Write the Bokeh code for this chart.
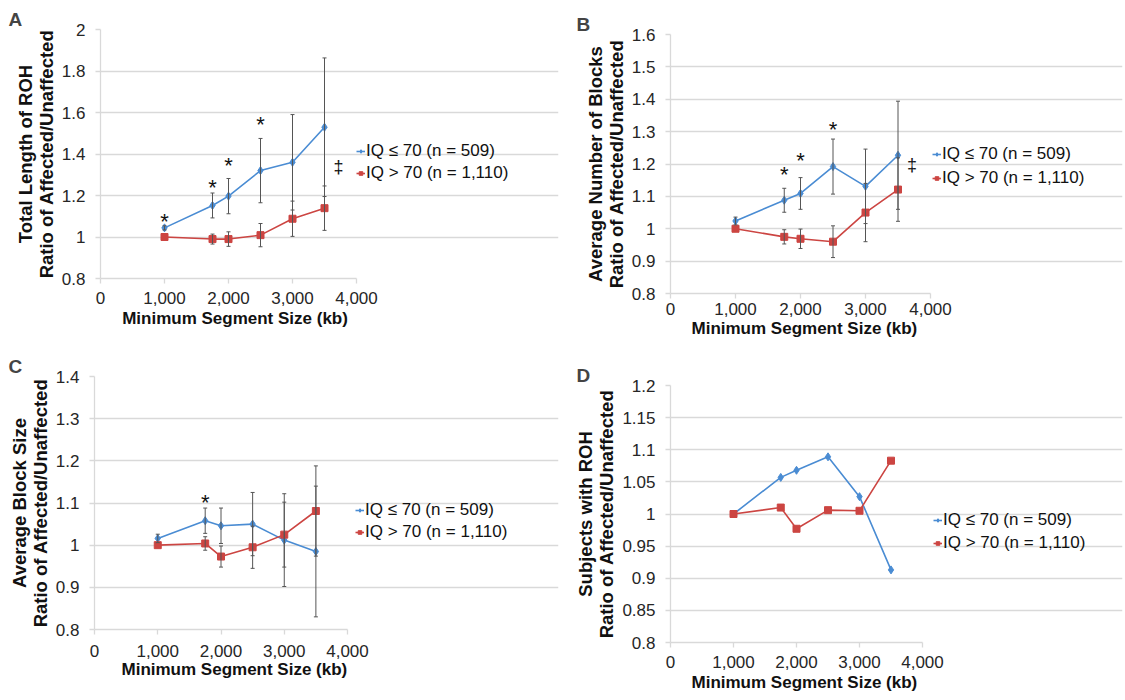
from bokeh.plotting import figure
from bokeh.models import (Range1d, FixedTicker, Legend, LegendItem, Whisker,
                          ColumnDataSource, TeeHead)
from bokeh.layouts import column, row
from bokeh.embed import file_html
from bokeh.resources import INLINE
from bokeh.core.properties import value

# ---------------- data ----------------
sizes = [1000, 1750, 2000, 2500, 3000, 3500]

A_low = [1.044, 1.152, 1.197, 1.320, 1.360, 1.529]
A_low_err = [0.010, 0.060, 0.085, 0.155, 0.230, 0.334]
A_high = [1.000, 0.990, 0.990, 1.009, 1.088, 1.139]
A_high_err = [0.0, 0.024, 0.035, 0.056, 0.085, 0.107]

B_low = [1.024, 1.088, 1.109, 1.192, 1.131, 1.227]
B_low_err = [0.012, 0.037, 0.049, 0.085, 0.115, 0.167]
B_high = [1.000, 0.975, 0.969, 0.960, 1.050, 1.121]
B_high_err = [0.0, 0.022, 0.030, 0.049, 0.090, 0.098]

C_low = [1.016, 1.058, 1.046, 1.050, 1.012, 0.985]
C_low_err = [0.010, 0.030, 0.042, 0.075, 0.110, 0.155]
C_high = [1.000, 1.004, 0.973, 0.995, 1.025, 1.081]
C_high_err = [0.0, 0.016, 0.025, 0.050, 0.077, 0.107]

D_low = [1.000, 1.057, 1.068, 1.089, 1.027, 0.913]
D_high = [1.000, 1.010, 0.977, 1.006, 1.005, 1.083]

A_star_x = [1000, 1750, 2000, 2500]
A_star_y = [1.094, 1.260, 1.365, 1.560]
B_star_x = [1750, 2000, 2500]
B_star_y = [1.179, 1.224, 1.320]
C_star_x = [1750]
C_star_y = [1.110]
A_dagger = (3720, 1.33)
B_dagger = (3714, 1.19)

x_ticks = [0, 1000, 2000, 3000, 4000]
x_tick_labels = ["0", "1,000", "2,000", "3,000", "4,000"]
A_yticks = [0.8, 1.0, 1.2, 1.4, 1.6, 1.8, 2.0]
A_ylabels = ["0.8", "1", "1.2", "1.4", "1.6", "1.8", "2"]
B_yticks = [0.8, 0.9, 1.0, 1.1, 1.2, 1.3, 1.4, 1.5, 1.6]
B_ylabels = ["0.8", "0.9", "1", "1.1", "1.2", "1.3", "1.4", "1.5", "1.6"]
C_yticks = [0.8, 0.9, 1.0, 1.1, 1.2, 1.3, 1.4]
C_ylabels = ["0.8", "0.9", "1", "1.1", "1.2", "1.3", "1.4"]
D_yticks = [0.8, 0.85, 0.9, 0.95, 1.0, 1.05, 1.1, 1.15, 1.2]
D_ylabels = ["0.8", "0.85", "0.9", "0.95", "1", "1.05", "1.1", "1.15", "1.2"]

x_title = "Minimum Segment Size (kb)"
label_low = "IQ \u2264 70 (n = 509)"
label_high = "IQ > 70 (n = 1,110)"

BLUE = "#4A8CD3"
RED = "#CC4542"
GRID = "#D9D9D9"
FONT = "Liberation Sans"
X_MAX = 4000


def panel(letter, ylabel, yticks, ylabels, low, high, low_err, high_err,
          w, h, left, top, bottom, plot_w, leg_dx, leg_top, leg_spacing,
          title_off, xlab_standoff, xtitle_standoff, xtitle_pad,
          stars=None, dagger=None):
    right = 2
    frame_w = w - left - right
    frame_h = h - top - bottom
    x_end = X_MAX * frame_w / plot_w
    p = figure(width=w, height=h, output_backend="svg",
               toolbar_location=None, x_range=Range1d(0, x_end),
               y_range=Range1d(yticks[0], yticks[-1]),
               min_border_left=left, min_border_top=top,
               min_border_right=right, min_border_bottom=bottom,
               title=letter)
    p.title.text_font = FONT
    p.title.text_font_size = "19px"
    p.title.text_font_style = "bold"
    p.title.align = "left"
    p.title.offset = title_off
    p.title.standoff = 0
    p.outline_line_color = None
    p.background_fill_color = "white"
    p.border_fill_color = "white"
    p.xgrid.grid_line_color = None
    p.ygrid.grid_line_color = GRID
    p.ygrid.grid_line_width = 1.3
    p.ygrid.bounds = (0, X_MAX)

    p.xaxis.ticker = FixedTicker(ticks=x_ticks)
    p.xaxis.major_label_overrides = {t: l for t, l in zip(x_ticks, x_tick_labels)}
    p.xaxis.bounds = (0, X_MAX)
    p.yaxis.ticker = FixedTicker(ticks=yticks)
    p.yaxis.major_label_overrides = {t: l for t, l in zip(yticks, ylabels)}
    for ax in (p.xaxis, p.yaxis):
        ax.axis_line_color = GRID
        ax.axis_line_width = 1.3
        ax.major_tick_line_color = GRID
        ax.major_tick_line_width = 1.3
        ax.major_tick_out = 5
        ax.major_tick_in = 0
        ax.minor_tick_line_color = None
        ax.major_label_text_font = FONT
        ax.major_label_text_font_size = "17px"
        ax.major_label_text_color = "#262626"
        ax.axis_label_text_font = FONT
        ax.axis_label_text_font_style = "bold"
        ax.axis_label_text_color = "#111111"
    # x title: trailing no-break spaces shift the centred title over the 0-4,000 span
    p.xaxis.axis_label = x_title + "\u00a0" * xtitle_pad
    p.xaxis.axis_label_text_font_size = "17px"
    p.xaxis.axis_label_standoff = xtitle_standoff
    p.xaxis.major_label_standoff = xlab_standoff
    p.yaxis.axis_label = ylabel
    p.yaxis.axis_label_text_font_size = "18.5px"
    p.yaxis.axis_label_text_line_height = 1.0
    p.yaxis.axis_label_standoff = 2
    p.yaxis.major_label_standoff = 10

    if low_err is not None:
        for vals, errs in ((low, low_err), (high, high_err)):
            src = ColumnDataSource(dict(
                x=[s for s, e in zip(sizes, errs) if e > 0],
                up=[v + e for v, e in zip(vals, errs) if e > 0],
                lo=[v - e for v, e in zip(vals, errs) if e > 0]))
            wk = Whisker(base="x", upper="up", lower="lo", source=src,
                         line_color="#555555", line_width=1, level="glyph",
                         upper_head=TeeHead(size=4, line_color="#555555", line_width=1),
                         lower_head=TeeHead(size=4, line_color="#555555", line_width=1))
            p.add_layout(wk)

    rl = p.line(sizes, low, line_color=BLUE, line_width=1.6)
    ml = p.scatter(sizes, low, marker="diamond", size=8, fill_color=BLUE, line_color=BLUE)
    rh = p.line(sizes, high, line_color=RED, line_width=1.6)
    mh = p.scatter(sizes, high, marker="square", size=7, fill_color=RED, line_color=RED)

    if stars is not None:
        sx, sy = stars
        p.text(sx, sy, text=["*"] * len(sx), text_font=value(FONT),
               text_font_size="22px", text_align="center",
               text_baseline="alphabetic", y_offset=4, text_color="#111111")
    if dagger is not None:
        p.text([dagger[0]], [dagger[1]], text=["\u2021"], text_font=value(FONT),
               text_font_size="18px", text_align="center",
               text_baseline="alphabetic", y_offset=-2, text_color="#111111")

    leg_h = 2 * 20 + leg_spacing
    leg = Legend(items=[LegendItem(label=label_low, renderers=[rl, ml]),
                        LegendItem(label=label_high, renderers=[rh, mh])],
                 location=(plot_w + leg_dx, frame_h - leg_top - leg_h),
                 orientation="vertical")
    leg.border_line_color = None
    leg.background_fill_alpha = 0
    leg.label_text_font = FONT
    leg.label_text_font_size = "17px"
    leg.label_text_color = "#111111"
    leg.glyph_width = 9
    leg.glyph_height = 20
    leg.label_height = 20
    leg.label_standoff = 1
    leg.spacing = leg_spacing
    leg.padding = 0
    leg.margin = 0
    p.add_layout(leg, "center")
    return p


pA = panel("A", "Total Length of ROH\nRatio of Affected/Unaffected", A_yticks, A_ylabels,
           A_low, A_high, A_low_err, A_high_err,
           w=560, h=344, left=100, top=29, bottom=66, plot_w=256,
           leg_dx=0, leg_top=112, leg_spacing=2, title_off=-92,
           xlab_standoff=8, xtitle_standoff=2, xtitle_pad=40,
           stars=(A_star_x, A_star_y), dagger=A_dagger)
pB = panel("B", "Average Number of Blocks\nRatio of Affected/Unaffected", B_yticks, B_ylabels,
           B_low, B_high, B_low_err, B_high_err,
           w=564, h=344, left=110, top=34, bottom=51, plot_w=260,
           leg_dx=2, leg_top=110, leg_spacing=4, title_off=-94,
           xlab_standoff=4, xtitle_standoff=1, xtitle_pad=39,
           stars=(B_star_x, B_star_y), dagger=B_dagger)
pC = panel("C", "Average Block Size\nRatio of Affected/Unaffected", C_yticks, C_ylabels,
           C_low, C_high, C_low_err, C_high_err,
           w=560, h=355, left=94, top=32, bottom=70, plot_w=253,
           leg_dx=8, leg_top=124, leg_spacing=2, title_off=-86,
           xlab_standoff=10, xtitle_standoff=0, xtitle_pad=39,
           stars=(C_star_x, C_star_y))
pD = panel("D", "Subjects with ROH\nRatio of Affected/Unaffected", D_yticks, D_ylabels,
           D_low, D_high, None, None,
           w=564, h=355, left=110, top=41, bottom=57, plot_w=252,
           leg_dx=11, leg_top=125, leg_spacing=3, title_off=-94,
           xlab_standoff=8, xtitle_standoff=2, xtitle_pad=39)

layout = column(row(column(pA), column(pB)), row(column(pC), column(pD)))
open("out.html", "w").write(file_html(layout, INLINE))
